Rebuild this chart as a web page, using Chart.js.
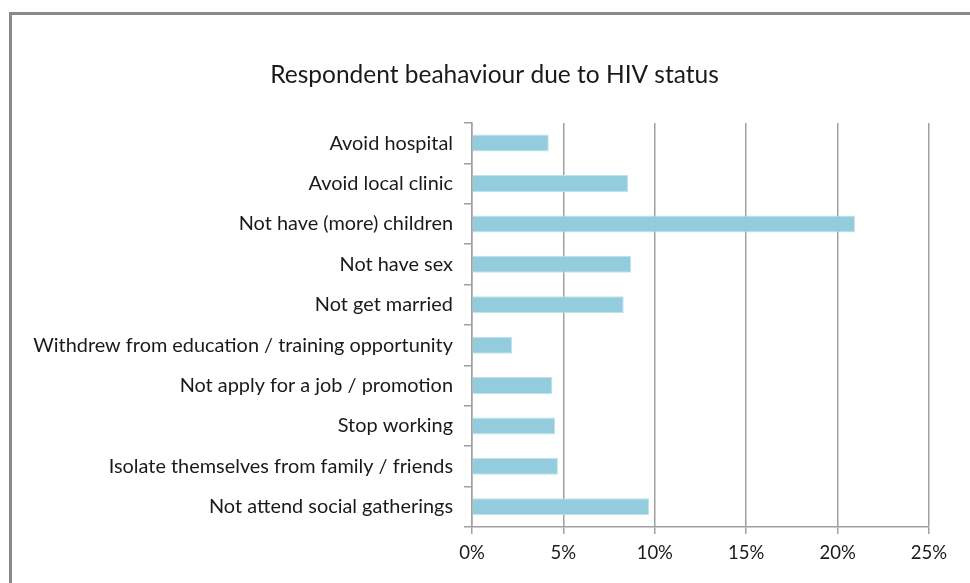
<!DOCTYPE html>
<html>
<head>
<meta charset="utf-8">
<title>Respondent beahaviour due to HIV status</title>
<script src="https://cdn.jsdelivr.net/npm/chart.js@4.4.1/dist/chart.umd.min.js"></script>
<style>
  html, body { margin: 0; padding: 0; background: #fff; overflow: hidden; }
  #moldura { position: absolute; left: 9px; top: 12px; width: 1000px; height: 620px; border: 3px solid #8a8a8a; }
  #grafico { position: absolute; left: 0; top: 0; }
</style>
</head>
<body>
<div id="moldura"></div>
<canvas id="grafico" width="970" height="583"></canvas>
<script>
// Comportamentos declarados pelos respondentes (% dos respondentes)
const categorias = [
  'Avoid hospital',
  'Avoid local clinic',
  'Not have (more) children',
  'Not have sex',
  'Not get married',
  'Withdrew from education / training opportunity',
  'Not apply for a job / promotion',
  'Stop working',
  'Isolate themselves from family / friends',
  'Not attend social gatherings',
];
const valores = [4.2, 8.55, 20.95, 8.7, 8.3, 2.2, 4.4, 4.55, 4.7, 9.7];
const ticksX = [0, 5, 10, 15, 20, 25];

const FONTE = 'Lato, "Open Sans", sans-serif';
const COR_TEXTO = '#1a1a1a';
const COR_LINHA = '#a0a0a0';

// O título fica centrado entre a margem de 60px e o fim da área do gráfico,
// não na largura toda do canvas.
const tituloDeslocado = {
  id: 'tituloDeslocado',
  afterLayout(chart) {
    const t = chart.titleBlock;
    if (t) t.left += 40;
  },
};

new Chart(document.getElementById('grafico'), {
  type: 'bar',
  data: {
    labels: categorias,
    datasets: [{
      data: valores,
      backgroundColor: '#93cddd',
      borderColor: '#bfe3ec',
      borderWidth: 1,
      borderSkipped: 'start',
      categoryPercentage: 1,
      barPercentage: 0.42,
    }],
  },
  options: {
    indexAxis: 'y',
    responsive: false,
    animation: false,
    layout: { padding: { left: 20, right: 41, top: 0, bottom: 0 } },
    plugins: {
      legend: { display: false },
      tooltip: { enabled: false },
      title: {
        display: true,
        text: 'Respondent beahaviour due to HIV status',
        color: COR_TEXTO,
        font: { family: FONTE, size: 24.5, weight: 'normal', lineHeight: 1.2 },
        padding: { top: 60, bottom: 33.5 },
      },
    },
    scales: {
      x: {
        min: 0, max: 25,
        afterBuildTicks: (s) => { s.ticks = ticksX.map((v) => ({ value: v })); },
        afterFit: (s) => { s.height = 56; },
        grid: { color: COR_LINHA, lineWidth: 1.5, tickLength: 7, drawTicks: true },
        border: { display: true, color: COR_LINHA, width: 1.5 },
        ticks: {
          color: COR_TEXTO, padding: 8,
          font: { family: FONTE, size: 18.5 },
          callback: (v) => v + '%',
        },
      },
      y: {
        afterFit: (s) => { s.width = 452; },
        grid: { drawOnChartArea: false, color: COR_LINHA, lineWidth: 1.5, tickLength: 8, offset: true },
        border: { display: true, color: COR_LINHA, width: 1.5 },
        ticks: {
          color: COR_TEXTO, padding: 11,
          font: { family: FONTE, size: 19.9 },
        },
      },
    },
  },
  plugins: [tituloDeslocado],
});
</script>
</body>
</html>
